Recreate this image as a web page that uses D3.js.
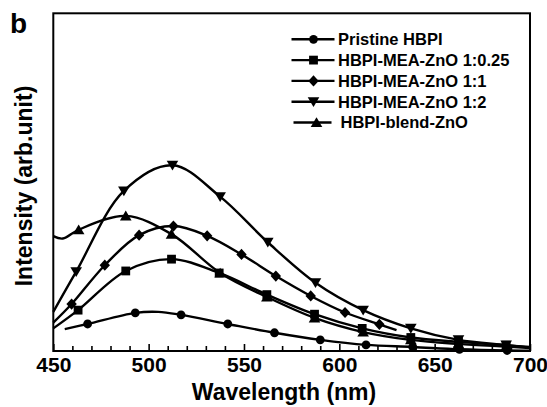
<!DOCTYPE html>
<html>
<head>
<meta charset="utf-8">
<script src="https://cdn.jsdelivr.net/npm/d3@7"></script>
<style>
  html, body { margin: 0; padding: 0; background: #fff; }
  svg { display: block; font-family: "Liberation Sans", Arial, Helvetica, sans-serif; }
</style>
</head>
<body>
<svg id="chart" width="547" height="407"></svg>
<script>
// ---- data ----
const majorTicks = [450, 500, 550, 600, 650, 700];
const minorTicks = d3.range(460, 700, 10).filter(v => v % 50 !== 0);

const seriesNames = ["Pristine HBPI", "HBPI-MEA-ZnO 1:0.25", "HBPI-MEA-ZnO 1:1", "HBPI-MEA-ZnO 1:2", "HBPI-blend-ZnO"];
const seriesSymbols = ["circle", "square", "diamond", "triDown", "triUp"];

const pristineWl   = [456, 468, 493, 505, 517, 541.5, 566, 590, 614, 638.5, 663, 688, 700];
const pristineI    = [6.5, 8.0, 11.3, 11.6, 10.7, 8.0, 5.4, 3.3, 1.8, 1.2, 0.5, 0.15, 0.1];
const pristineMk   = [1, 2, 4, 5, 6, 7, 8, 9, 10, 11];

const mea025Wl     = [450, 463, 488, 512, 537, 562, 587, 612, 637.5, 662.5, 687.5, 700];
const mea025I      = [6.7, 12.1, 23.7, 27.2, 23.1, 16.7, 10.9, 6.7, 4.0, 2.7, 1.7, 1.2];
const mea025Mk     = [1, 2, 3, 4, 5, 6, 7, 8, 9, 10];

const mea1Wl       = [450, 459.6, 477, 495, 513, 530.7, 548.7, 566.7, 585, 603, 621, 630];
const mea1I        = [8.4, 13.9, 25.4, 34.3, 37.0, 34.1, 28.6, 22.2, 16.3, 11.4, 7.9, 6.2];
const mea1Mk       = [1, 2, 3, 4, 5, 6, 7, 8, 9, 10];

const mea2Wl       = [450, 462, 487, 512.5, 537.5, 562.5, 587.5, 612.5, 637.5, 662.5, 687.5, 700];
const mea2I        = [11.6, 23.5, 47.4, 55.0, 45.7, 32.2, 20.2, 12.1, 6.7, 3.3, 1.8, 1.0];
const mea2Mk       = [1, 2, 3, 4, 5, 6, 7, 8, 9, 10];

const blendWl      = [450, 455, 463.3, 488, 512, 537.5, 562, 587, 612.5, 637.5, 662.5, 687.5, 700];
const blendI       = [34.0, 33.3, 35.9, 40.0, 34.6, 23.1, 16.0, 9.8, 5.6, 3.3, 2.1, 1.3, 0.9];
const blendMk      = [2, 3, 4, 5, 6, 7, 8, 9, 10, 11];

const seriesWl = [pristineWl, mea025Wl, mea1Wl, mea2Wl, blendWl];
const seriesI  = [pristineI, mea025I, mea1I, mea2I, blendI];
const seriesMk = [pristineMk, mea025Mk, mea1Mk, mea2Mk, blendMk];

// ---- layout ----
const svg = d3.select("#chart");
const L = 53.3, R = 530, T = 13.3, B = 351;
const x = d3.scaleLinear().domain([450, 700]).range([L, R]);
const y = d3.scaleLinear().domain([0, 100]).range([B, T]);

function symbolPath(type) {
  switch (type) {
    case "circle": return d3.symbol().type(d3.symbolCircle).size(Math.PI * 4.4 * 4.4)();
    case "square": return "M-4.4,-4.4H4.4V4.4H-4.4Z";
    case "diamond": return "M0,-5.6L5.2,0L0,5.6L-5.2,0Z";
    case "triDown": return "M-5.8,-4.5L5.8,-4.5L0,5.3Z";
    case "triUp": return "M-5.8,4.5L5.8,4.5L0,-5.3Z";
  }
}

// frame
svg.append("rect").attr("x", L).attr("y", T).attr("width", R - L).attr("height", B - T)
  .attr("fill", "none").attr("stroke", "#000").attr("stroke-width", 2);

// minor ticks
svg.append("g").attr("transform", `translate(0,${B})`)
  .call(d3.axisBottom(x).tickValues(minorTicks).tickSize(-5).tickFormat(""))
  .call(g => g.select(".domain").remove())
  .call(g => g.selectAll("line").attr("stroke", "#000").attr("stroke-width", 1.6));

// major ticks + labels
svg.append("g").attr("transform", `translate(0,${B})`)
  .call(d3.axisBottom(x).tickValues(majorTicks).tickSize(-7).tickFormat(d3.format("d")))
  .call(g => g.select(".domain").remove())
  .call(g => g.selectAll("line").attr("stroke", "#000").attr("stroke-width", 1.6))
  .call(g => g.selectAll("text").attr("y", 20.5).attr("dy", 0)
    .attr("fill", "#000").attr("font-size", 21).attr("font-weight", "bold")
    .attr("font-family", "'Liberation Sans', Arial, sans-serif"));

// curves
const line = d3.line().curve(d3.curveCatmullRom.alpha(0.5))
  .x(d => x(d[0])).y(d => y(d[1]));

const plot = svg.append("g");
seriesNames.forEach((name, s) => {
  const pts = seriesWl[s].map((w, i) => [w, seriesI[s][i]]);
  plot.append("path").datum(pts).attr("d", line)
    .attr("fill", "none").attr("stroke", "#000").attr("stroke-width", 2.4);
  plot.selectAll(null).data(seriesMk[s].map(i => pts[i])).enter().append("path")
    .attr("d", symbolPath(seriesSymbols[s]))
    .attr("transform", d => `translate(${x(d[0])},${y(d[1])})`)
    .attr("fill", "#000");
});

// legend
const legRowY = [39.3, 60.1, 80.9, 101.7, 122.5];
const legend = svg.append("g");
seriesNames.forEach((name, s) => {
  const cy = legRowY[s];
  const off = s === 4 ? 2 : 0;
  legend.append("line").attr("x1", 291.5 + off).attr("x2", 334.5 - (s === 4 ? 3 : 0))
    .attr("y1", cy).attr("y2", cy).attr("stroke", "#000").attr("stroke-width", 2.4);
  legend.append("path").attr("d", symbolPath(seriesSymbols[s]))
    .attr("transform", `translate(${313.5 + (s === 4 ? 3 : 0)},${cy})`).attr("fill", "#000");
  legend.append("text").attr("x", 338 + (s === 4 ? 2.5 : 0)).attr("y", cy + 5.8)
    .attr("font-size", 16.5).attr("font-weight", "bold").attr("fill", "#000").text(name);
});

// axis titles
svg.append("text").attr("x", 284).attr("y", 399.5).attr("text-anchor", "middle")
  .attr("font-size", 23).attr("font-weight", "bold").attr("fill", "#000").text("Wavelength (nm)");
svg.append("text").attr("transform", "translate(32,186) rotate(-90)").attr("text-anchor", "middle")
  .attr("font-size", 23).attr("font-weight", "bold").attr("fill", "#000").text("Intensity (arb.unit)");

// panel letter
svg.append("text").attr("x", 10).attr("y", 33).attr("font-size", 28).attr("font-weight", "bold")
  .attr("fill", "#000").text("b");
</script>
</body>
</html>
